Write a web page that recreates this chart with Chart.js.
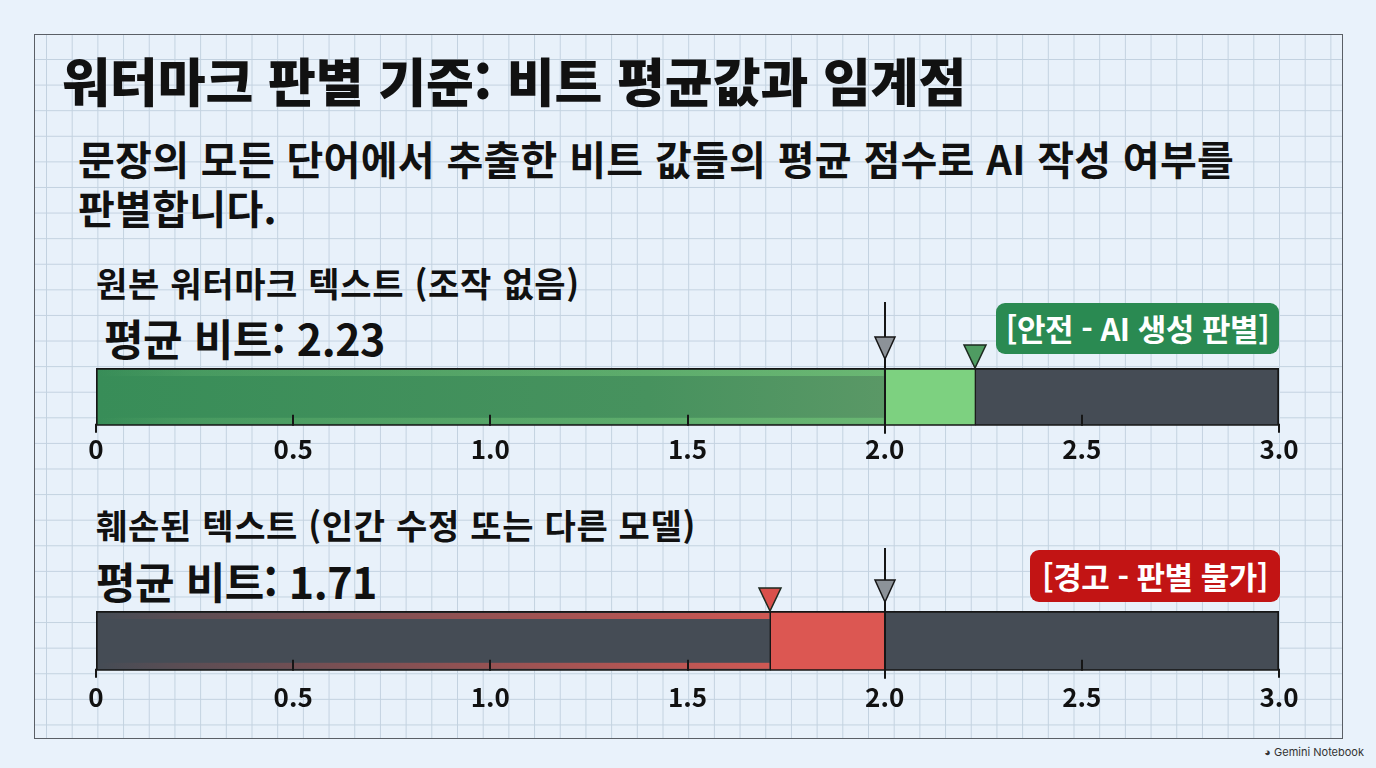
<!DOCTYPE html>
<html lang="ko">
<head>
<meta charset="utf-8">
<script src="https://cdn.jsdelivr.net/npm/chart.js@4"></script>
<style>
  html, body { margin: 0; padding: 0; }
  body {
    width: 1376px; height: 768px; position: relative; overflow: hidden;
    background: #e9f2fb;
    font-family: "Noto Sans CJK KR", "Noto Sans", sans-serif;
    color: #111;
  }
  #frame {
    position: absolute; left: 34px; top: 34px; width: 1307px; height: 703px;
    border: 1px solid #5a5f66;
    background-color: #e8f1fa;
    background-image:
      linear-gradient(to right, #c3d2e0 1px, transparent 1px),
      linear-gradient(to bottom, #c3d2e0 1px, transparent 1px);
    background-size: 25.7px 25.6px;
    background-position: 11px 24px;
  }
  .txt { position: absolute; white-space: nowrap; }
  #title { left: 62px; top: 42px; font-size: 52px; font-weight: 900; letter-spacing: 0; }
  #sub { left: 78px; top: 134px; font-size: 40px; font-weight: 700; line-height: 49px; letter-spacing: 0.3px; }
  .sec { font-size: 34px; font-weight: 700; letter-spacing: 0.7px; }
  .avg { font-size: 43px; font-weight: 700; letter-spacing: -0.5px; }
  .badge {
    position: absolute; color: #fff; font-size: 31px; font-weight: 700;
    border-radius: 9px; text-align: center; letter-spacing: -0.5px;
  }
  .chartbox { position: absolute; left: 0; width: 1376px; }
  #foot { right: 12px; top: 745px; font-size: 11px; color: #333; font-family: Inter, "Noto Sans", sans-serif; }
</style>
</head>
<body>
<div id="frame"></div>
<div class="txt" id="title">워터마크 판별 기준: 비트 평균값과 임계점</div>
<div class="txt" id="sub">문장의 모든 단어에서 추출한 비트 값들의 평균 점수로 AI 작성 여부를<br>판별합니다.</div>

<div class="txt sec" style="left:96px; top:258px;">원본 워터마크 텍스트 (조작 없음)</div>
<div class="txt avg" style="left:104px; top:306px;">평균 비트: 2.23</div>
<div class="badge" style="left:996px; top:303px; width:283px; height:51px; line-height:50px; background:#2a8a52;">[안전 - AI 생성 판별]</div>
<div class="chartbox" style="top:290px; height:187px;"><canvas id="c1" width="1376" height="187"></canvas></div>

<div class="txt sec" style="left:96px; top:500px;">훼손된 텍스트 (인간 수정 또는 다른 모델)</div>
<div class="txt avg" style="left:96px; top:549px;">평균 비트: 1.71</div>
<div class="badge" style="left:1030px; top:550px; width:250px; height:52px; line-height:51px; background:#c21414;">[경고 - 판별 불가]</div>
<div class="chartbox" style="top:535px; height:193px;"><canvas id="c2" width="1376" height="193"></canvas></div>

<div class="txt" id="foot">&#9685; Gemini Notebook</div>

<script>
// data
const categories = ['원본 워터마크 텍스트', '훼손된 텍스트'];
const avgBits = [2.23, 1.71];
const threshold = 2.0;
const axisMax = 3.0;
const tickLabels = ['0', '0.5', '1.0', '1.5', '2.0', '2.5', '3.0'];

const slate = '#454c55';
const lineColor = '#161616';

function segments(score) {
  const lo = Math.min(score, threshold);
  const hi = Math.max(score, threshold);
  return [lo, hi - lo, axisMax - hi];
}

function gradientFill(stops, fallback) {
  return function(ctx) {
    const chart = ctx.chart;
    const area = chart.chartArea;
    if (!area) return fallback;
    const x = chart.scales.x;
    const g = chart.ctx.createLinearGradient(x.getPixelForValue(0), 0, x.getPixelForValue(threshold), 0);
    stops.forEach(s => g.addColorStop(s[0], s[1]));
    return g;
  };
}

// tick marks inside the bar + threshold arrow + score marker
const markers = {
  id: 'markers',
  afterDatasetsDraw(chart, args, opts) {
    const c = chart.ctx;
    const x = chart.scales.x;
    const top = chart.chartArea.top;
    const bot = chart.chartArea.bottom;
    c.save();

    // soft bands along top and bottom of the first segment
    const x0 = x.getPixelForValue(0) + 2;
    const x1 = x.getPixelForValue(Math.min(opts.score, threshold)) - 1;
    const g = c.createLinearGradient(x0, 0, x1, 0);
    g.addColorStop(0, opts.glow[0]);
    g.addColorStop(0.12, opts.glow[1]);
    g.addColorStop(1, opts.glow[2]);
    c.fillStyle = g;
    c.fillRect(x0, top + 2, x1 - x0, 6);
    c.fillRect(x0, bot - 8, x1 - x0, 6);

    c.strokeStyle = lineColor;
    c.lineWidth = 2;
    x.ticks.forEach(t => {
      const px = Math.round(x.getPixelForValue(t.value));
      c.beginPath();
      if (t.value === 0 || t.value === axisMax) {
        c.moveTo(px, bot - 2); c.lineTo(px, bot + 7);
      } else {
        c.moveTo(px, bot - 11); c.lineTo(px, bot);
      }
      c.stroke();
    });

    // threshold line and arrow
    const tx = Math.round(x.getPixelForValue(threshold));
    c.beginPath();
    c.moveTo(tx, top - opts.lineLen);
    c.lineTo(tx, bot + 8);
    c.stroke();
    c.beginPath();
    c.moveTo(tx - 10, top - 31);
    c.lineTo(tx + 10, top - 31);
    c.lineTo(tx, top - 9);
    c.closePath();
    c.fillStyle = '#8c9298';
    c.fill();
    c.lineWidth = 1.5;
    c.stroke();

    // score marker
    const sx = Math.round(x.getPixelForValue(opts.score));
    c.beginPath();
    c.moveTo(sx - 11, top - 23);
    c.lineTo(sx + 11, top - 23);
    c.lineTo(sx, top);
    c.closePath();
    c.fillStyle = opts.markColor;
    c.fill();
    c.strokeStyle = '#1d2a20';
    c.stroke();
    c.restore();
  }
};

function makeChart(id, idx, firstFill, midFill, padTop, tickPad, opts) {
  const vals = segments(avgBits[idx]);
  const fills = [firstFill, midFill, slate];
  const datasets = vals.map((v, i) => ({
    label: 'seg' + i,
    data: [v],
    backgroundColor: fills[i],
    borderColor: lineColor,
    borderWidth: { top: 2, bottom: 2, left: i === 0 ? 2 : 1, right: i === 2 ? 2 : 1 },
    borderSkipped: false,
    barPercentage: 1,
    categoryPercentage: 1
  }));
  return new Chart(document.getElementById(id), {
    type: 'bar',
    data: { labels: [categories[idx]], datasets: datasets },
    options: {
      indexAxis: 'y',
      responsive: false,
      animation: false,
      layout: { padding: { top: padTop, left: 96, right: 97, bottom: 4 } },
      plugins: {
        legend: { display: false },
        tooltip: { enabled: false },
        markers: Object.assign({ score: avgBits[idx] }, opts)
      },
      scales: {
        y: { display: false, stacked: true },
        x: {
          stacked: true,
          min: 0, max: axisMax,
          grid: { display: false, drawTicks: false },
          border: { display: false },
          ticks: {
            stepSize: 0.5,
            padding: tickPad,
            maxRotation: 0,
            color: '#111',
            font: { family: '"Noto Sans CJK KR", "Noto Sans", sans-serif', size: 26, weight: 'bold' },
            callback: (v, i) => tickLabels[i]
          }
        }
      }
    },
    plugins: [markers]
  });
}

makeChart('c1', 0,
  gradientFill([[0, '#388d58'], [0.7, '#47925e'], [1, '#5a9866']], '#3f8f5a'),
  '#7dd180', 78, 8,
  { lineLen: 66, markColor: '#4f9c62',
    glow: ['rgba(110,190,118,0)', 'rgba(110,190,118,0.25)', 'rgba(112,196,120,0.7)'] });

makeChart('c2', 1, slate, '#dc5752', 76, 11,
  { lineLen: 63, markColor: '#d9504b',
    glow: ['rgba(214,84,78,0)', 'rgba(214,84,78,0.15)', 'rgba(222,90,84,0.9)'] });
</script>
</body>
</html>
